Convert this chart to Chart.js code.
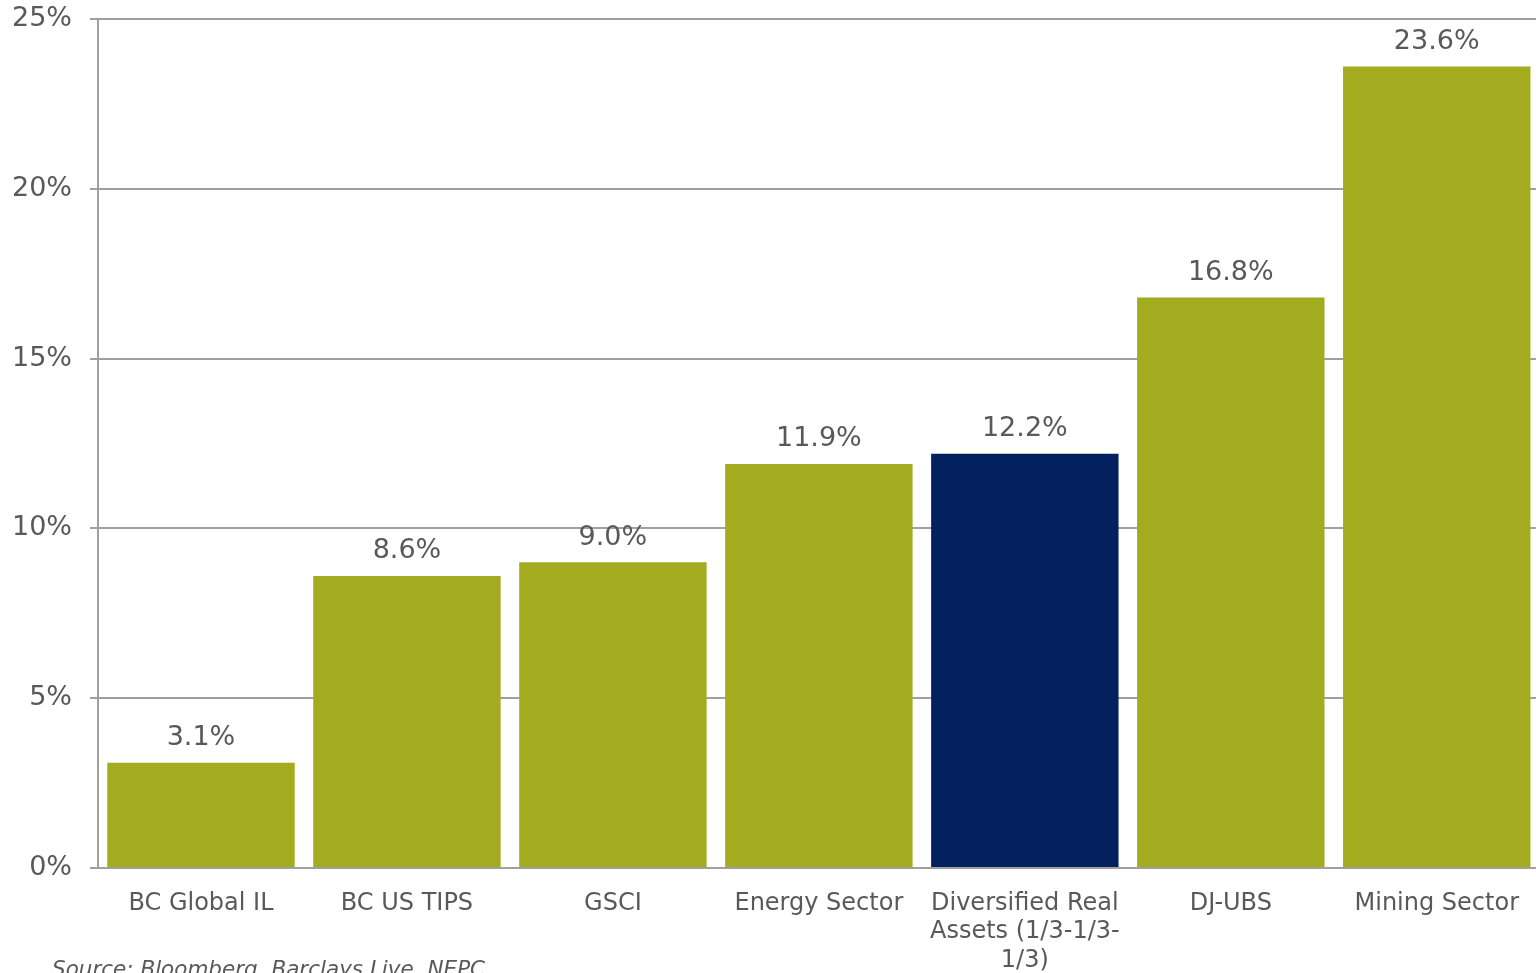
<!DOCTYPE html>
<html>
<head>
<meta charset="utf-8">
<script src="https://cdn.jsdelivr.net/npm/chart.js@4"></script>
<style>
  html, body { margin: 0; padding: 0; overflow: hidden; background: #fff; }
  #wrap { position: relative; width: 1536px; height: 973px; overflow: hidden; }
  #fuente {
    position: absolute; left: 52px; top: 956px;
    font-family: "DejaVu Sans", Verdana, sans-serif; font-style: italic;
    font-size: 21.5px; color: #595959; white-space: nowrap;
  }
</style>
</head>
<body>
<div id="wrap">
  <canvas id="barras" width="1540" height="973"></canvas>
  <div id="fuente">Source: Bloomberg, Barclays Live, NEPC</div>
</div>
<script>
// datos del grafico
const categorias = ['BC Global IL', 'BC US TIPS', 'GSCI', 'Energy Sector',
  ['Diversified Real', 'Assets (1/3-1/3-', '1/3)'], 'DJ-UBS', 'Mining Sector'];
const valores = [3.1, 8.6, 9.0, 11.9, 12.2, 16.8, 23.6];
const colores = ['#a2ac1e', '#a2ac1e', '#a2ac1e', '#a2ac1e', '#03215f', '#a2ac1e', '#a2ac1e'];
const ticksY = [0, 5, 10, 15, 20, 25];

const gris = '#595959';
const fuente = '"DejaVu Sans", Verdana, sans-serif';

// etiquetas de valor encima de cada barra
const etiquetas = {
  id: 'etiquetas',
  afterDatasetsDraw(chart) {
    const ctx = chart.ctx;
    const meta = chart.getDatasetMeta(0);
    ctx.save();
    ctx.font = '27px ' + fuente;
    ctx.fillStyle = gris;
    ctx.textAlign = 'center';
    ctx.textBaseline = 'bottom';
    meta.data.forEach(function (bar, i) {
      ctx.fillText(valores[i].toFixed(1) + '%', bar.x, bar.y - 11);
    });
    ctx.restore();
  }
};

const ctx = document.getElementById('barras').getContext('2d');
new Chart(ctx, {
  type: 'bar',
  data: {
    labels: categorias,
    datasets: [{
      data: valores,
      backgroundColor: colores,
      borderWidth: 0,
      barPercentage: 0.91,
      categoryPercentage: 1
    }]
  },
  options: {
    responsive: false,
    animation: false,
    events: [],
    layout: { padding: { top: 19, right: 0, left: 0, bottom: 0 } },
    plugins: {
      legend: { display: false },
      tooltip: { enabled: false }
    },
    scales: {
      x: {
        grid: { display: false, drawTicks: false },
        border: { display: false },
        ticks: {
          color: gris,
          font: { family: fuente, size: 24, lineHeight: 1.2 },
          padding: 21,
          maxRotation: 0,
          autoSkip: false
        },
        afterFit: function (scale) { scale.height = 105; }
      },
      y: {
        min: 0,
        max: 25,
        afterBuildTicks: function (scale) {
          scale.ticks = ticksY.map(v => ({ value: v }));
        },
        grid: { color: '#a0a0a0', lineWidth: 2, tickLength: 8 },
        border: { display: true, color: '#a0a0a0', width: 2 },
        ticks: {
          color: gris,
          font: { family: fuente, size: 27 },
          padding: 18,
          callback: v => v + '%'
        },
        afterFit: function (scale) {
          scale.width = 98;
          scale.paddingTop = 0;
          scale.paddingBottom = 0;
        }
      }
    }
  },
  plugins: [etiquetas]
});
</script>
</body>
</html>
